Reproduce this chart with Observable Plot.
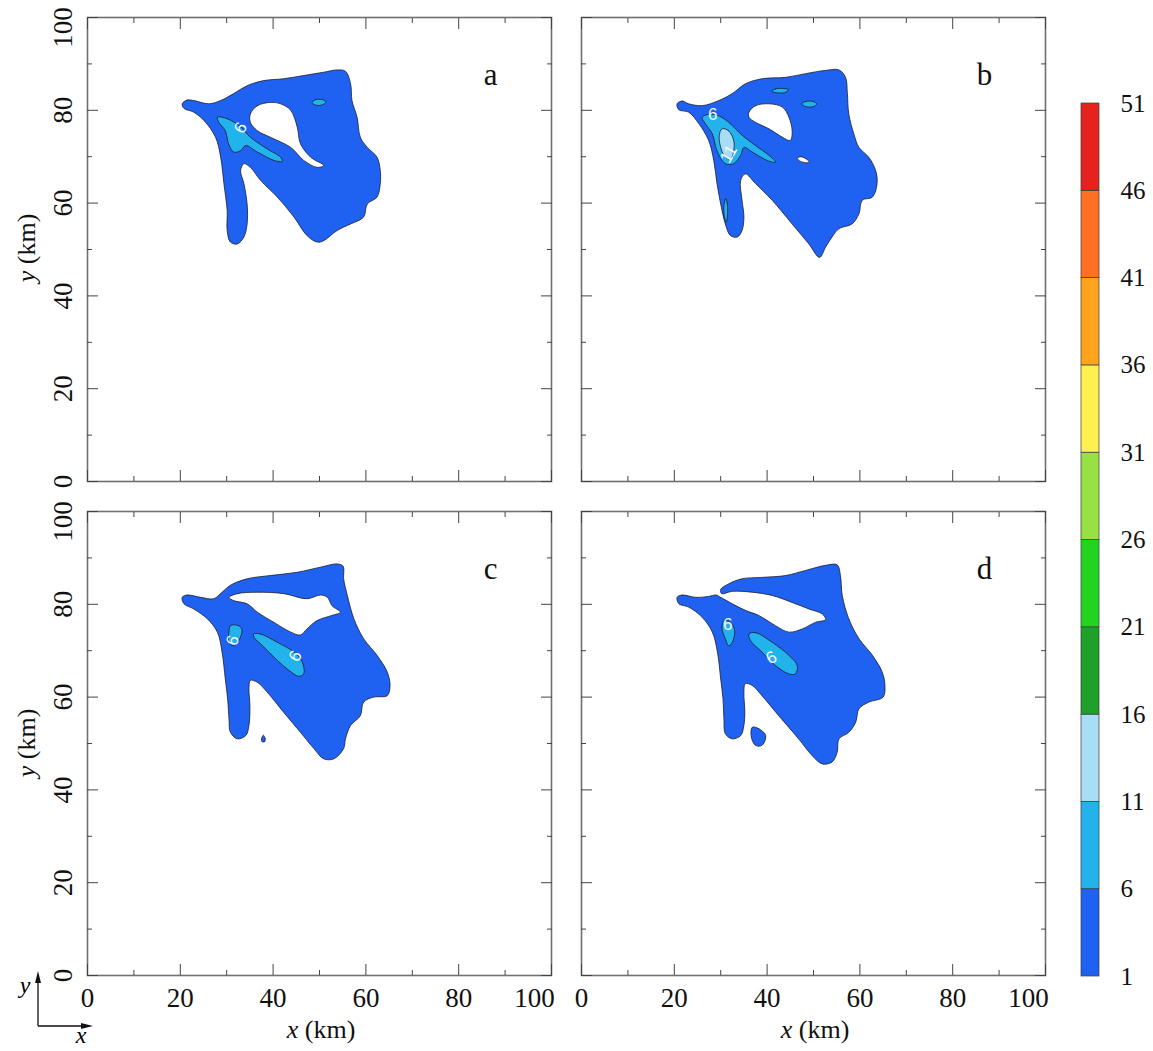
<!DOCTYPE html>
<html><head><meta charset="utf-8">
<script src="https://cdn.jsdelivr.net/npm/d3@7"></script>
<script src="https://cdn.jsdelivr.net/npm/@observablehq/plot@0.6"></script>
<style>
body{margin:0;background:#fff}
#root{position:relative;width:1153px;height:1051px;background:#fff;font-family:"Liberation Serif","Times New Roman",serif;overflow:hidden;color:#111}
.abs{position:absolute}
.ttl{font-size:26px;white-space:nowrap;transform:translate(-50%,-50%)}
</style></head><body><div id="root"></div>
<script>
// ---------- data (km) ----------
const levels = [1, 6, 11, 16, 21, 26, 31, 36, 41, 46, 51];
const palette = ["#1f62f2", "#22b2ec", "#a9dcf5", "#1ea02a", "#22d420", "#98e044", "#fff050", "#ffa41c", "#ff7022", "#e6221e"];
const majorTicks = [0, 20, 40, 60, 80, 100];
const minorTicks = [10, 30, 50, 70, 90];

// panel a
const aOuter = [[20.4,81.4],[21.5,82.2],[22.9,82.1],[26.1,81.4],[28.7,82.1],[31.5,83.6],[34.4,85.3],[38.0,86.4],[42.3,86.8],[46.6,87.5],[50.9,88.2],[53.8,88.7],[55.6,88.4],[56.7,85.7],[57.0,82.1],[58.1,78.5],[58.8,74.2],[60.3,72.0],[62.4,69.9],[63.1,67.0],[63.1,64.2],[62.4,61.3],[60.3,59.8],[59.5,57.0],[56.7,55.5],[53.8,54.1],[50.9,51.9],[49.5,51.6],[47.3,53.0],[44.5,57.0],[40.9,61.3],[37.3,64.9],[35.1,67.7],[33.7,68.5],[33.0,67.0],[33.7,64.2],[34.4,59.8],[34.4,55.5],[33.7,52.7],[32.3,51.2],[30.8,51.6],[30.1,54.1],[30.1,58.4],[29.4,64.2],[28.7,69.9],[27.6,74.2],[25.1,77.8],[22.9,79.6],[20.8,80.4]];
const aHole = [[35.1,79.2],[36.6,81.0],[39.4,81.7],[41.6,81.4],[43.8,80.0],[45.2,76.4],[45.9,72.8],[48.1,69.9],[50.9,68.1],[49.5,67.7],[46.6,69.2],[43.8,72.0],[39.4,74.2],[36.6,75.6],[35.1,77.4]];
const aCyan1 = [[28.0,78.5],[30.1,78.2],[33.0,76.4],[35.1,74.2],[38.7,71.7],[41.6,69.9],[42.0,69.0],[40.2,69.2],[36.6,71.0],[34.1,72.4],[33.0,71.3],[31.5,71.0],[30.4,72.8],[29.7,75.6],[28.3,77.4]];
const aCyan2 = [[48.4,81.7],[49.2,82.3],[50.6,82.3],[51.4,81.8],[50.7,81.2],[49.2,81.1]];
const aLabels = [{x:33.0, y:76.2, text:"6", rotate:-60}];

// panel b
const bOuter = [[20.6,81.4],[21.7,82.0],[23.1,81.4],[26.0,81.0],[29.6,82.1],[32.5,83.6],[35.3,85.7],[38.9,86.8],[44.0,87.1],[48.3,87.9],[52.6,88.6],[55.5,88.7],[56.9,87.1],[57.3,83.6],[57.6,79.2],[58.7,74.9],[59.8,72.0],[61.9,69.9],[63.4,67.0],[63.7,64.2],[62.7,61.3],[60.5,60.6],[59.8,57.7],[58.3,55.5],[55.5,54.5],[54.0,52.7],[52.6,50.5],[51.3,48.3],[49.0,51.2],[45.4,55.5],[41.1,60.6],[37.5,64.2],[35.3,66.3],[34.3,64.9],[34.6,60.6],[35.0,57.0],[34.6,54.1],[33.6,52.7],[32.1,53.0],[31.0,55.5],[30.0,59.8],[29.2,64.2],[28.5,69.2],[27.4,73.5],[25.3,77.1],[23.1,79.6],[21.0,80.1]];
const bHole1 = [[36.1,79.6],[37.5,81.0],[40.4,81.4],[43.3,80.7],[44.7,78.5],[45.4,75.6],[45.0,73.5],[43.3,74.2],[40.4,76.0],[37.5,77.4],[36.1,78.5]];
const bHole2 = [[46.5,69.7],[47.3,70.0],[48.6,69.4],[49.1,68.8],[48.3,68.7],[47.0,69.1]];
const bCyan1 = [[26.0,78.5],[28.2,79.2],[30.7,78.2],[32.5,76.7],[34.3,74.9],[37.5,72.4],[40.4,70.3],[41.8,68.8],[40.0,69.2],[36.8,71.0],[35.0,72.0],[34.3,70.3],[32.8,68.5],[31.0,68.5],[29.2,71.3],[28.2,74.9],[26.7,77.1]];
const bCyan2 = [[41.0,84.1],[41.8,84.6],[43.5,84.7],[44.6,84.4],[43.8,83.8],[42.0,83.8]];
const bCyan3 = [[47.5,81.4],[48.3,81.9],[49.9,81.9],[50.7,81.4],[50.0,80.8],[48.3,80.8]];
const bCyan4 = [[31.1,61.0],[31.4,60.0],[31.5,58.0],[31.2,55.9],[30.8,57.0],[30.7,59.5]];
const bLight1 = [[30.3,76.0],[31.7,75.6],[32.8,73.5],[32.8,71.3],[32.1,69.5],[31.0,69.9],[30.0,72.0],[29.7,74.6]];
const bLabels = [{x:28.3, y:79.1, text:"6", rotate:0}, {x:31.7, y:70.6, text:"11", rotate:-60}];

// panel c
const cOuter = [[20.4,81.5],[21.5,82.0],[24.4,81.5],[27.2,81.2],[29.0,82.6],[30.8,84.1],[34.4,85.5],[39.4,86.2],[45.2,86.9],[50.2,88.0],[53.8,88.7],[55.1,88.2],[55.2,85.5],[56.0,81.9],[57.4,76.9],[59.5,72.6],[62.4,69.0],[64.6,65.4],[65.2,62.5],[64.6,60.3],[61.7,60.0],[59.5,58.9],[58.8,56.0],[56.7,53.9],[55.6,51.0],[55.2,48.9],[53.1,46.7],[50.9,46.7],[48.8,48.9],[45.9,52.4],[42.3,56.7],[38.7,61.1],[36.6,63.2],[35.1,63.6],[34.8,61.8],[35.0,58.2],[34.8,53.9],[34.1,51.7],[32.3,51.0],[30.8,52.4],[30.5,55.3],[30.2,59.6],[29.7,63.9],[29.0,69.7],[28.0,74.0],[25.8,76.9],[22.9,79.0],[20.8,80.1]];
const cHole1 = [[30.5,81.5],[32.3,82.3],[36.6,82.6],[42.3,82.3],[47.3,81.2],[50.2,82.0],[51.7,81.5],[52.7,79.7],[54.5,78.3],[52.7,77.6],[49.5,76.5],[47.3,74.7],[45.9,73.4],[43.8,74.0],[40.2,76.1],[36.6,78.3],[34.4,80.1],[31.5,80.8]];
const cCyan1 = [[30.8,75.4],[32.6,75.4],[33.3,74.4],[32.6,72.2],[31.5,71.1],[30.5,71.8],[30.5,74.0]];
const cCyan2 = [[35.8,73.6],[37.3,73.6],[40.9,71.8],[44.5,69.7],[46.3,67.5],[46.6,65.0],[45.5,64.5],[43.0,66.1],[40.2,68.6],[37.3,71.5],[36.0,72.7]];
const cBlob = [[37.9,51.8],[38.3,51.0],[38.2,50.4],[37.6,50.4],[37.5,51.0]];
const cLabels = [{x:31.3, y:72.2, text:"6", rotate:-70}, {x:44.8, y:68.8, text:"6", rotate:-60}];

// panel d
const dOuter = [[20.6,81.5],[21.7,82.0],[24.6,81.5],[27.4,81.7],[29.0,82.0],[30.0,81.5],[32.5,80.1],[35.3,78.7],[38.2,77.6],[41.8,75.4],[44.7,74.0],[47.6,74.7],[50.4,76.1],[52.6,76.7],[51.9,77.9],[49.0,79.0],[45.4,80.4],[41.1,81.9],[36.8,82.6],[32.5,82.8],[30.2,82.3],[30.0,83.2],[31.7,84.4],[34.6,85.5],[38.9,85.8],[44.0,86.2],[48.3,87.3],[52.6,88.4],[55.1,88.5],[55.8,86.2],[56.2,81.9],[57.6,76.9],[59.8,72.6],[62.7,69.0],[64.8,65.4],[65.4,62.5],[65.0,60.0],[61.9,58.9],[59.8,57.5],[59.1,54.6],[57.6,52.4],[55.5,51.0],[55.1,48.1],[54.0,46.0],[51.9,45.6],[49.7,47.4],[46.8,51.0],[42.5,56.0],[38.9,60.3],[36.8,62.5],[35.3,62.9],[35.0,61.1],[35.2,56.7],[35.0,53.9],[34.3,51.7],[32.5,51.0],[31.0,52.1],[30.7,55.3],[30.5,59.6],[30.0,63.9],[29.3,69.7],[28.2,74.0],[26.0,77.2],[23.1,79.4],[21.0,80.1]];
const dBlob = [[36.8,53.5],[38.2,53.2],[39.7,51.7],[38.9,49.6],[37.5,49.6],[36.6,51.4]];
const dCyan1 = [[30.7,76.5],[32.1,76.1],[33.0,74.4],[32.5,71.8],[31.7,71.1],[31.0,72.6],[30.3,74.7]];
const dCyan2 = [[36.1,73.6],[37.5,73.9],[41.1,71.8],[44.7,69.0],[46.5,66.8],[46.1,65.0],[44.7,65.0],[41.8,66.8],[38.9,69.7],[36.4,72.2]];
const dLabels = [{x:31.5, y:75.6, text:"6", rotate:0}, {x:40.9, y:68.5, text:"6", rotate:-30}];

// ---------- rendering ----------
const root = document.getElementById("root");
const P = 464, ML = 60, MT = 20, MR = 20, MB = 60;
const SERIF = "Liberation Serif, Times New Roman, serif";
const colorScale = {type: "threshold", domain: levels.slice(1, -1), range: palette};
const centred = {textAnchor: "middle", lineAnchor: "middle", fontFamily: SERIF, fill: "#111"};

function rows(shapes, level, tag) {
  return shapes.flatMap((pts, i) => pts.map(([x, y]) => ({x, y, level, id: tag + i})));
}

function panel({ox, oy, letter, blue, holes, cyan, light, labels, showX, showY}) {
  const lineOpts = {x: "x", y: "y", z: "id", stroke: "#1b1b2e", strokeWidth: 0.8, curve: "catmull-rom-closed"};
  const marks = [
    Plot.line(rows(blue, 1, "b"), {...lineOpts, fill: "level"}),
    Plot.line(rows(holes, 0, "h"), {...lineOpts, fill: "white"}),
    Plot.line(rows(cyan, 6, "c"), {...lineOpts, fill: "level"}),
    Plot.line(rows(light, 11, "l"), {...lineOpts, fill: "level"}),
    Plot.text(labels, {x: "x", y: "y", text: "text", rotate: "rotate", fill: "#f4f8ff", fontSize: 17, fontFamily: "Liberation Sans, Arial, sans-serif"}),
    Plot.frame({stroke: "#707070", strokeWidth: 1.6}),
  ];
  for (const anchor of ["bottom", "top"]) {
    marks.push(Plot.axisX(majorTicks, {anchor, tickSize: -11, tickFormat: () => "", label: null, stroke: "#444"}));
    marks.push(Plot.axisX(minorTicks, {anchor, tickSize: -5, tickFormat: () => "", label: null, stroke: "#444"}));
  }
  for (const anchor of ["left", "right"]) {
    marks.push(Plot.axisY(majorTicks, {anchor, tickSize: -11, tickFormat: () => "", label: null, stroke: "#444"}));
    marks.push(Plot.axisY(minorTicks, {anchor, tickSize: -5, tickFormat: () => "", label: null, stroke: "#444"}));
  }
  if (showX) {
    marks.push(Plot.text(majorTicks.filter(d => d < 100), {...centred, x: d => d, frameAnchor: "bottom", dy: 23, text: d => String(d), fontSize: 27}));
    marks.push(Plot.text(majorTicks.filter(d => d === 100), {...centred, x: d => d, frameAnchor: "bottom", dy: 23, dx: -17, text: d => String(d), fontSize: 27}));
  }
  if (showY) {
    marks.push(Plot.text(majorTicks.filter(d => d < 100), {...centred, y: d => d, frameAnchor: "left", dx: -24, rotate: -90, text: d => String(d), fontSize: 27}));
    marks.push(Plot.text(majorTicks.filter(d => d === 100), {...centred, y: d => d, frameAnchor: "left", dx: -24, dy: 10, rotate: -90, text: d => String(d), fontSize: 27}));
  }
  marks.push(Plot.text([letter], {...centred, frameAnchor: "top-left", dx: 403, dy: 58, text: d => d, fontSize: 31}));

  const svg = Plot.plot({
    width: ML + P + MR, height: MT + P + MB,
    marginLeft: ML, marginTop: MT, marginRight: MR, marginBottom: MB,
    x: {domain: [0, 100]}, y: {domain: [0, 100]},
    color: colorScale,
    style: {background: "transparent", overflow: "visible", fontFamily: SERIF},
    marks
  });
  svg.classList.add("abs");
  svg.style.left = (ox - ML) + "px";
  svg.style.top = (oy - MT) + "px";
  root.appendChild(svg);
}

panel({ox: 87, oy: 17, letter: "a", blue: [aOuter], holes: [aHole], cyan: [aCyan1, aCyan2], light: [], labels: aLabels, showX: false, showY: true});
panel({ox: 581, oy: 17, letter: "b", blue: [bOuter], holes: [bHole1, bHole2], cyan: [bCyan1, bCyan2, bCyan3, bCyan4], light: [bLight1], labels: bLabels, showX: false, showY: false});
panel({ox: 87, oy: 511, letter: "c", blue: [cOuter, cBlob], holes: [cHole1], cyan: [cCyan1, cCyan2], light: [], labels: cLabels, showX: true, showY: true});
panel({ox: 581, oy: 511, letter: "d", blue: [dOuter, dBlob], holes: [], cyan: [dCyan1, dCyan2], light: [], labels: dLabels, showX: true, showY: false});

// colour bar
const bands = levels.slice(0, -1).map((lo, i) => ({lo, hi: levels[i + 1]}));
const bar = Plot.plot({
  width: 93, height: 1051,
  marginLeft: 21, marginRight: 54, marginTop: 103, marginBottom: 75,
  x: {domain: [0, 1], axis: null}, y: {domain: [1, 51], axis: null},
  color: colorScale,
  style: {background: "transparent", overflow: "visible", fontFamily: SERIF},
  marks: [
    Plot.rect(bands, {x1: 0, x2: 1, y1: "lo", y2: "hi", fill: "lo", stroke: "#3a3a3a", strokeWidth: 0.7}),
    Plot.text(levels, {x: 1, y: d => d, dx: 21, textAnchor: "start", lineAnchor: "middle", text: d => String(d), fontSize: 25, fontFamily: SERIF, fill: "#111"})
  ]
});
bar.classList.add("abs");
bar.style.left = "1060px";
bar.style.top = "0px";
root.appendChild(bar);

// axis titles
function title(html, x, y, rot) {
  const d = document.createElement("div");
  d.className = "abs ttl";
  d.style.left = x + "px";
  d.style.top = y + "px";
  if (rot) d.style.transform = "translate(-50%,-50%) rotate(-90deg)";
  d.innerHTML = html;
  root.appendChild(d);
}
title("<i>y</i> (km)", 27, 248, true);
title("<i>y</i> (km)", 27, 743, true);
title("<i>x</i> (km)", 321, 1030, false);
title("<i>x</i> (km)", 815, 1030, false);

// orientation glyph
root.insertAdjacentHTML("beforeend", `
<svg class="abs" style="left:0;top:940px" width="120" height="111">
  <line x1="38" y1="86" x2="38" y2="40" stroke="#111" stroke-width="1.3"/>
  <polygon points="38,31 35,43 41,43" fill="#111"/>
  <line x1="38" y1="86" x2="84" y2="86" stroke="#111" stroke-width="1.3"/>
  <polygon points="93,86 81,83 81,89" fill="#111"/>
  <text x="25" y="53" font-family="Liberation Serif" font-style="italic" font-size="24" text-anchor="middle">y</text>
  <text x="81" y="103" font-family="Liberation Serif" font-style="italic" font-size="24" text-anchor="middle">x</text>
</svg>`);
</script></body></html>
